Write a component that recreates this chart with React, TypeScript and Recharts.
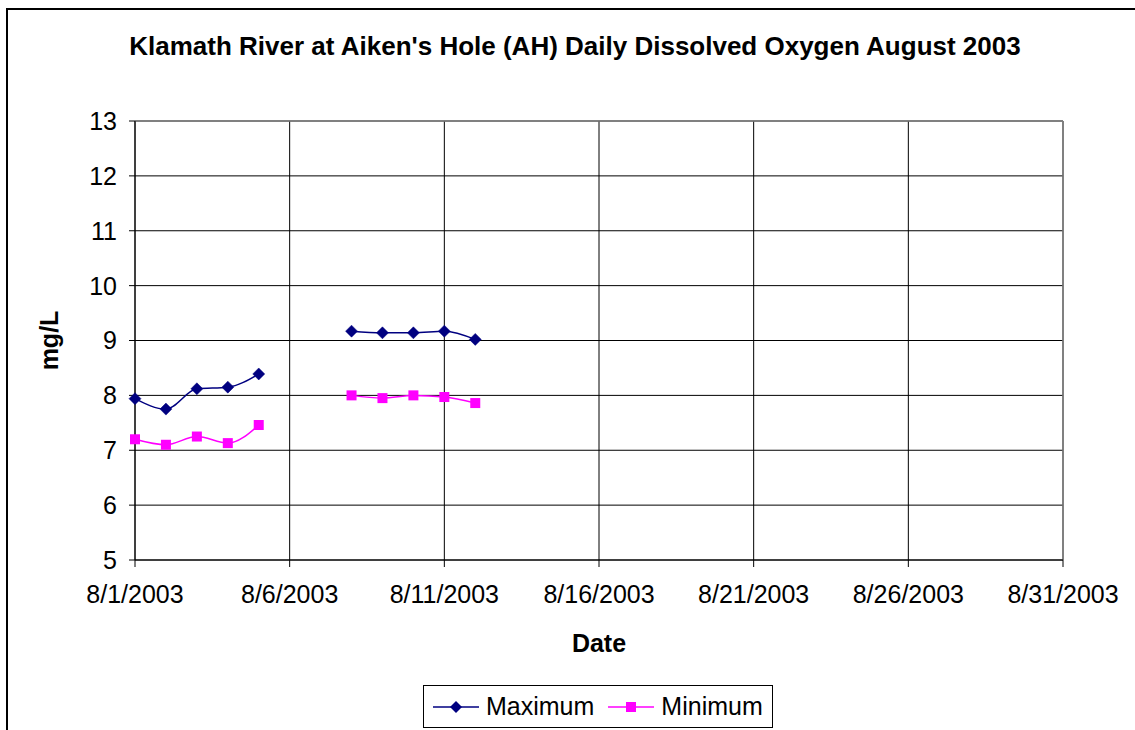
import React from 'react';
import { LineChart, Line, XAxis, YAxis, CartesianGrid, Legend, ReferenceLine } from 'recharts';

const dayIndex = [0, 1, 2, 3, 4, 5, 6, 7, 8, 9, 10, 11];
const maximumValues = [7.94, 7.75, 8.12, 8.15, 8.39, null, null, 9.17, 9.14, 9.14, 9.17, 9.02];
const minimumValues = [7.2, 7.1, 7.25, 7.13, 7.46, null, null, 8.0, 7.95, 8.0, 7.97, 7.86];
const xTicks = [0, 5, 10, 15, 20, 25, 30];
const xTickLabels = ['8/1/2003', '8/6/2003', '8/11/2003', '8/16/2003', '8/21/2003', '8/26/2003', '8/31/2003'];
const yTicks = [5, 6, 7, 8, 9, 10, 11, 12, 13];

const data = dayIndex.map((d, i) => ({ day: d, Maximum: maximumValues[i], Minimum: minimumValues[i] }));

const FONT = '"Liberation Sans", Arial, sans-serif';
const NAVY = '#000080';
const MAGENTA = '#FF00FF';

const Diamond = (props: any) => {
  const { cx, cy } = props;
  if (cx == null || cy == null || props.value == null) return null;
  const s = 6;
  return <path d={`M${cx},${cy - s}L${cx + s},${cy}L${cx},${cy + s}L${cx - s},${cy}Z`} fill={NAVY} stroke={NAVY} strokeWidth={0.5} />;
};

const Square = (props: any) => {
  const { cx, cy } = props;
  if (cx == null || cy == null || props.value == null) return null;
  const s = 5;
  return <rect x={cx - s} y={cy - s} width={2 * s} height={2 * s} fill={MAGENTA} />;
};

const LegendContent = (props: any) => {
  const items = [
    { name: 'Maximum', color: NAVY, shape: 'diamond' },
    { name: 'Minimum', color: MAGENTA, shape: 'square' },
  ];
  return (
    <div
      style={{
        boxSizing: 'border-box',
        width: 350,
        height: 43,
        border: '1px solid #000',
        background: '#fff',
        display: 'flex',
        alignItems: 'center',
        paddingLeft: 9,
        fontFamily: FONT,
        fontSize: 25,
        color: '#000',
      }}
    >
      {items.map((it) => (
        <div key={it.name} style={{ display: 'flex', alignItems: 'center', marginRight: 14 }}>
          <svg width={46} height={16} style={{ marginRight: 7 }}>
            <line x1={0} y1={8} x2={46} y2={8} stroke={it.color} strokeWidth={1.5} />
            {it.shape === 'diamond' ? (
              <path d="M23,2L29,8L23,14L17,8Z" fill={it.color} />
            ) : (
              <rect x={18} y={3} width={10} height={10} fill={it.color} />
            )}
          </svg>
          <span>{it.name}</span>
        </div>
      ))}
    </div>
  );
};

export default function App() {
  return (
    <div style={{ position: 'absolute', left: 0, top: 0, width: 1135, height: 730, background: '#fff', overflow: 'hidden' }}>
      <div
        style={{
          position: 'absolute',
          left: 6,
          top: 8,
          width: 1200,
          height: 800,
          borderLeft: '2px solid #000',
          borderTop: '2px solid #000',
        }}
      />
      <div
        style={{
          position: 'absolute',
          left: 0,
          top: 31,
          width: 1150,
          textAlign: 'center',
          fontFamily: FONT,
          fontWeight: 'bold',
          fontSize: 26,
          color: '#000',
        }}
      >
        Klamath River at Aiken's Hole (AH) Daily Dissolved Oxygen August 2003
      </div>
      <div style={{ position: 'absolute', left: 0, top: 0 }}>
        <LineChart
          width={1135}
          height={730}
          data={data}
          margin={{ top: 121, right: 72, bottom: 110, left: 0 }}
          style={{ fontFamily: FONT }}
        >
          <CartesianGrid stroke="#000" strokeWidth={1} />
          <XAxis
            dataKey="day"
            type="number"
            domain={[0, 30]}
            ticks={xTicks}
            tickFormatter={(v: number) => xTickLabels[xTicks.indexOf(v)]}
            height={60}
            interval={0}
            tickSize={7}
            tickMargin={18}
            stroke="#000"
            tick={{ fill: '#000', fontSize: 25, fontFamily: FONT }}
            label={{ value: 'Date', position: 'bottom', offset: 14, style: { fill: '#000', fontSize: 25, fontWeight: 'bold', fontFamily: FONT } }}
          />
          <YAxis
            type="number"
            domain={[5, 13]}
            ticks={yTicks}
            interval={0}
            width={135}
            tickSize={6}
            tickMargin={12}
            stroke="#000"
            tick={{ fill: '#000', fontSize: 25, fontFamily: FONT }}
            label={{ value: 'mg/L', angle: -90, position: 'insideLeft', offset: 49, style: { textAnchor: 'middle', fill: '#000', fontSize: 25, fontWeight: 'bold', fontFamily: FONT } }}
          />
          <ReferenceLine y={13} stroke="#808080" strokeWidth={1.5} />
          <ReferenceLine x={30} stroke="#808080" strokeWidth={1.5} />
          <Line
            type="monotone"
            dataKey="Maximum"
            stroke={NAVY}
            strokeWidth={1.5}
            dot={<Diamond />}
            activeDot={false}
            isAnimationActive={false}
          />
          <Line
            type="monotone"
            dataKey="Minimum"
            stroke={MAGENTA}
            strokeWidth={1.5}
            dot={<Square />}
            activeDot={false}
            isAnimationActive={false}
          />
          <Legend
            layout="vertical"
            align="center"
            verticalAlign="middle"
            content={<LegendContent />}
            wrapperStyle={{ top: 685, left: 423, width: 350, height: 43 }}
          />
        </LineChart>
      </div>
    </div>
  );
}
